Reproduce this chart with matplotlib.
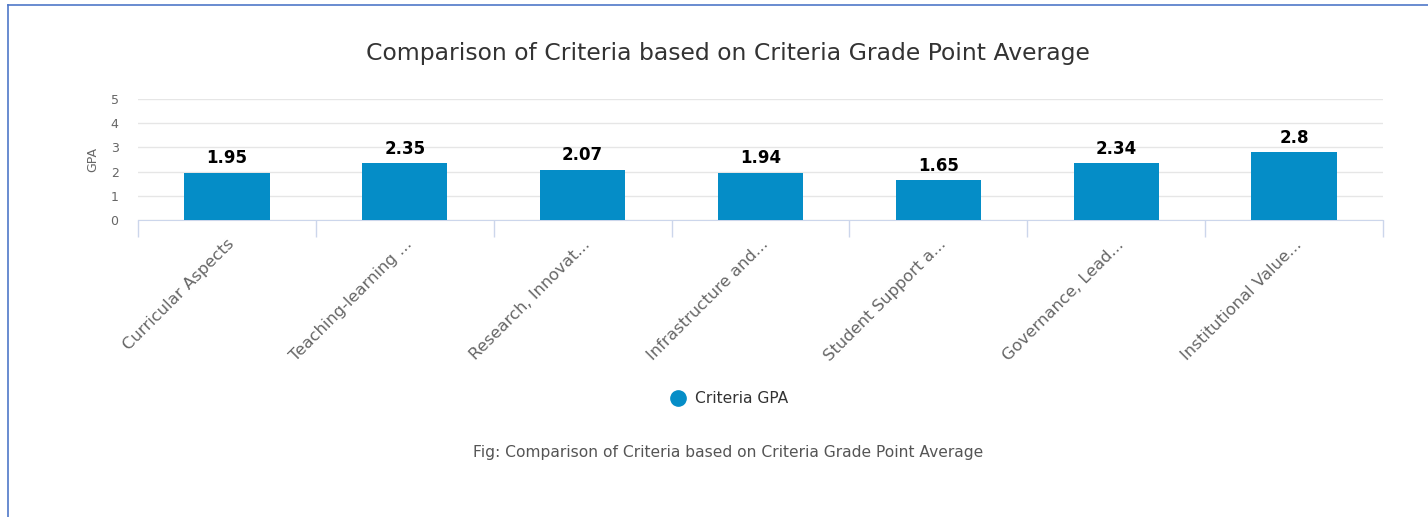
import matplotlib.pyplot as plt
from matplotlib.lines import Line2D

categories = [
    "Curricular Aspects",
    "Teaching-learning ...",
    "Research, Innovat...",
    "Infrastructure and...",
    "Student Support a...",
    "Governance, Lead...",
    "Institutional Value...",
]
gpa = [1.95, 2.35, 2.07, 1.94, 1.65, 2.34, 2.8]
gpa_labels = ["1.95", "2.35", "2.07", "1.94", "1.65", "2.34", "2.8"]
y_ticks = [0, 1, 2, 3, 4, 5]

BAR = "#058dc7"
AXIS = "#ccd6eb"
GRID = "#e6e6e6"

fig = plt.figure(figsize=(14.28, 5.17), dpi=100)

# chart container border (left and top only)
fig.add_artist(Line2D([0.0056, 0.0056], [0, 0.99], color="#4f78c8", lw=1.2))
fig.add_artist(Line2D([0.0056, 1.0], [0.99, 0.99], color="#4f78c8", lw=1.2))

ax = fig.add_axes([0.0966, 0.5745, 0.8719, 0.234])
x = list(range(len(categories)))
ax.bar(x, gpa, width=0.48, color=BAR, zorder=3)
for xi, v, lab in zip(x, gpa, gpa_labels):
    ax.annotate(lab, (xi, v), xytext=(0, 4), textcoords="offset points",
                ha="center", va="bottom", fontsize=12, fontweight="bold",
                color="black", zorder=4)

ax.set_xlim(-0.5, len(categories) - 0.5)
ax.set_ylim(0, 5)
ax.set_yticks(y_ticks)
ax.grid(axis="y", color=GRID, lw=1, zorder=0)
ax.tick_params(axis="y", length=0, labelsize=9, labelcolor="#666666", pad=14)
ax.set_ylabel("GPA", fontsize=9, color="#666666", labelpad=8)

ax.set_xticks([i + 0.5 for i in range(-1, len(categories))], minor=False)
ax.set_xticklabels([])
ax.tick_params(axis="x", length=12, color=AXIS, width=1)
ax.set_xticks(x, minor=True)
ax.set_xticklabels(categories, minor=True, rotation=45, ha="right",
                   rotation_mode="anchor", fontsize=11.8, color="#666666")
ax.tick_params(axis="x", which="minor", length=0, pad=12)

for side in ["top", "right", "left"]:
    ax.spines[side].set_visible(False)
ax.spines["bottom"].set_color(AXIS)

fig.text(0.5098, 0.897, "Comparison of Criteria based on Criteria Grade Point Average",
         ha="center", va="center", fontsize=16.9, color="#333333")

fig.add_artist(Line2D([0.4748], [0.23], marker="o", markersize=11,
                      color=BAR, linestyle="none"))
fig.text(0.4867, 0.23, "Criteria GPA", ha="left", va="center",
         fontsize=11.2, color="#333333")

fig.text(0.5098, 0.1238, "Fig: Comparison of Criteria based on Criteria Grade Point Average",
         ha="center", va="center", fontsize=11.2, color="#555555")

fig.savefig("out.png", dpi=100)
